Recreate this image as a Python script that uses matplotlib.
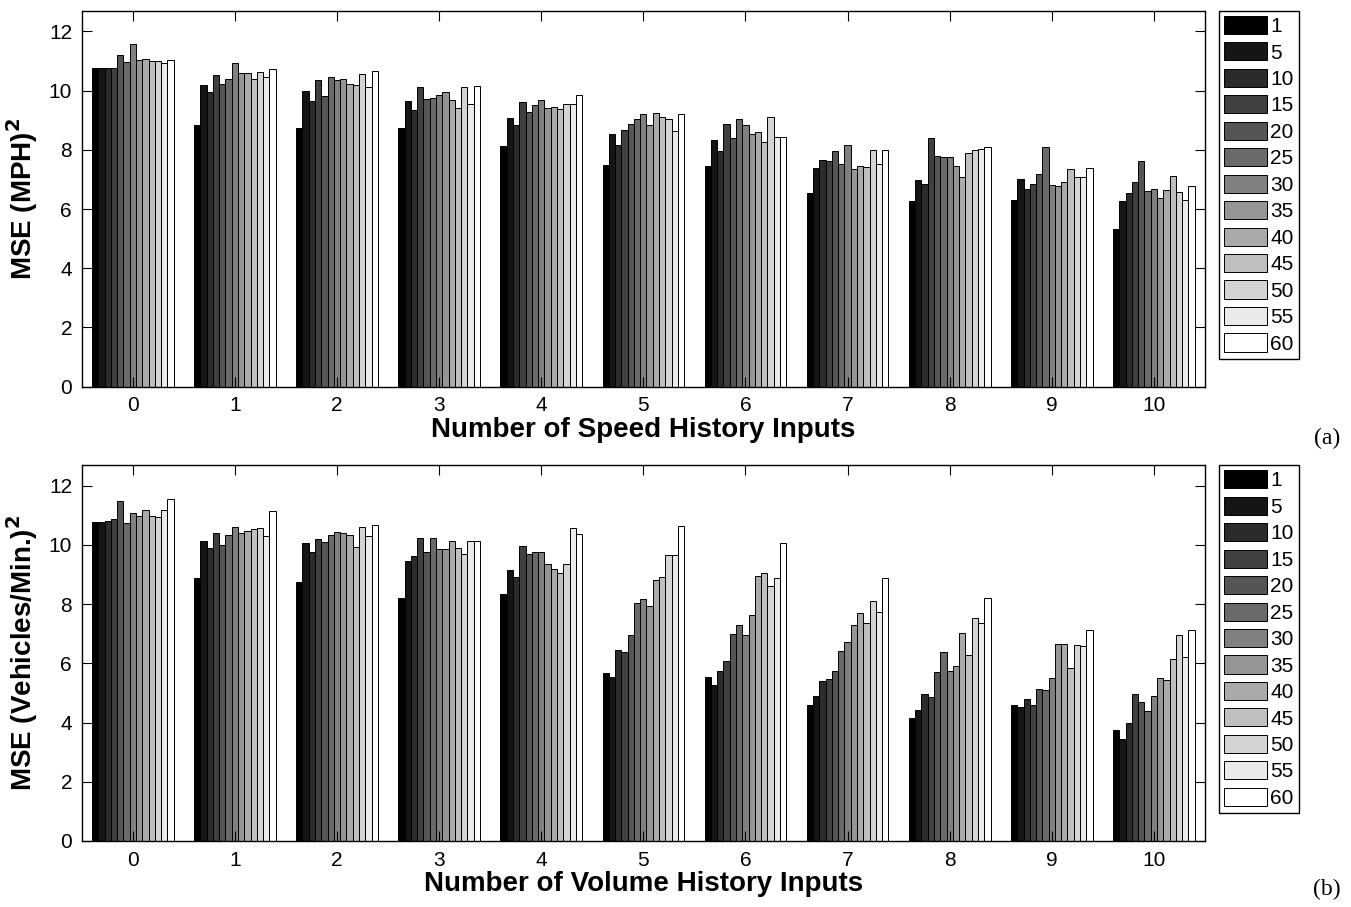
import numpy as np
import matplotlib
matplotlib.use("Agg")
import matplotlib.pyplot as plt

plt.rcParams['font.family'] = ['Liberation Sans', 'DejaVu Sans']

history = list(range(11))
horizons = ['1', '5', '10', '15', '20', '25', '30', '35', '40', '45', '50', '55', '60']

# rows = number of history inputs (0..10), columns = horizon (1..60)
speed_mse = [
    [10.75, 10.77, 10.78, 10.78, 11.22, 10.98, 11.58, 11.05, 11.08, 11.01, 11.01, 10.93, 11.03],
    [8.83, 10.18, 9.95, 10.54, 10.24, 10.38, 10.95, 10.60, 10.59, 10.38, 10.62, 10.45, 10.72],
    [8.75, 10.00, 9.65, 10.36, 9.82, 10.46, 10.35, 10.38, 10.22, 10.19, 10.55, 10.11, 10.66],
    [8.75, 9.65, 9.33, 10.11, 9.72, 9.76, 9.84, 9.96, 9.67, 9.40, 10.13, 9.55, 10.17],
    [8.13, 9.06, 8.83, 9.60, 9.29, 9.50, 9.68, 9.42, 9.46, 9.37, 9.55, 9.55, 9.84],
    [7.49, 8.54, 8.17, 8.67, 8.87, 9.05, 9.20, 8.85, 9.26, 9.10, 9.04, 8.62, 9.21],
    [7.45, 8.34, 7.95, 8.88, 8.41, 9.03, 8.85, 8.52, 8.61, 8.25, 9.11, 8.42, 8.43],
    [6.54, 7.40, 7.66, 7.62, 7.95, 7.52, 8.17, 7.34, 7.44, 7.41, 8.00, 7.51, 7.98],
    [6.27, 6.97, 6.84, 8.41, 7.79, 7.76, 7.76, 7.47, 7.07, 7.88, 7.98, 8.02, 8.09],
    [6.30, 7.02, 6.69, 6.83, 7.20, 8.10, 6.80, 6.77, 6.93, 7.36, 7.07, 7.07, 7.40],
    [5.32, 6.28, 6.53, 6.92, 7.63, 6.62, 6.69, 6.38, 6.65, 7.10, 6.59, 6.32, 6.77],
]

volume_mse = [
    [10.76, 10.76, 10.82, 10.87, 11.50, 10.75, 11.08, 10.99, 11.18, 10.97, 10.94, 11.17, 11.55],
    [8.89, 10.12, 9.89, 10.40, 9.99, 10.33, 10.61, 10.39, 10.47, 10.54, 10.56, 10.29, 11.13],
    [8.74, 10.07, 9.77, 10.20, 10.11, 10.33, 10.43, 10.39, 10.32, 9.93, 10.59, 10.31, 10.69],
    [8.21, 9.45, 9.62, 10.24, 9.76, 10.22, 9.85, 9.85, 10.12, 9.90, 9.69, 10.14, 10.14],
    [8.35, 9.14, 8.91, 9.96, 9.71, 9.75, 9.75, 9.34, 9.18, 9.04, 9.34, 10.56, 10.37],
    [5.67, 5.53, 6.46, 6.37, 6.95, 8.05, 8.17, 7.94, 8.83, 8.91, 9.65, 9.66, 10.63],
    [5.53, 5.27, 5.75, 6.07, 6.99, 7.28, 6.96, 7.65, 8.96, 9.05, 8.61, 8.88, 10.05],
    [4.59, 4.89, 5.41, 5.46, 5.74, 6.41, 6.73, 7.28, 7.70, 7.36, 8.09, 7.75, 8.88],
    [4.16, 4.44, 4.96, 4.85, 5.72, 6.40, 5.74, 5.92, 7.04, 6.29, 7.53, 7.37, 8.21],
    [4.60, 4.51, 4.79, 4.60, 5.12, 5.09, 5.50, 6.67, 6.65, 5.83, 6.61, 6.59, 7.14],
    [3.75, 3.44, 3.98, 4.96, 4.68, 4.38, 4.91, 5.50, 5.44, 6.16, 6.97, 6.23, 7.14],
]

panels = [
    (speed_mse, 'MSE (MPH)$^{\\bf 2}$', 'Number of Speed History Inputs', '(a)'),
    (volume_mse, 'MSE (Vehicles/Min.)$^{\\bf 2}$', 'Number of Volume History Inputs', '(b)'),
]

grays = np.linspace(0, 1, len(horizons))
n = len(horizons)
width = 0.8 / n
x = np.arange(len(history))

fig = plt.figure(figsize=(13.51, 9.07), dpi=100)
ax_pos = [[0.0605, 0.5737, 0.8314, 0.4145],
          [0.0605, 0.0728, 0.8314, 0.4145]]
tag_y = [0.517, 0.019]

for k, (data, ylab, xlab, tag) in enumerate(panels):
    ax = fig.add_axes(ax_pos[k])
    vals = np.array(data)
    for j in range(n):
        ax.bar(x - 0.4 + width * (j + 0.5), vals[:, j], width=width,
               color=str(grays[j]), edgecolor='black', linewidth=0.7,
               label=horizons[j])
    ax.set_xlim(-0.5, 10.5)
    ax.set_ylim(0, 12.7)
    ax.set_xticks(x)
    ax.set_yticks(np.arange(0, 13, 2))
    ax.tick_params(direction='in', length=7, width=0.8, labelsize=15,
                   top=True, right=True, pad=7)
    ax.set_ylabel(ylab, fontsize=20, fontweight='bold', labelpad=6)
    ax.set_xlabel(xlab, fontsize=20, fontweight='bold', labelpad=1)
    for s in ax.spines.values():
        s.set_linewidth(1.0)
    leg = ax.legend(loc='upper left', bbox_to_anchor=(1.0127, 1.0),
                    borderaxespad=0, fontsize=15, handlelength=2.05,
                    handleheight=0.96, labelspacing=0.3, handletextpad=0.15,
                    borderpad=0.25, fancybox=False, framealpha=1,
                    edgecolor='black')
    leg.get_frame().set_linewidth(1.0)
    fig.text(0.982, tag_y[k], tag, fontsize=17, family='Liberation Serif',
             ha='center', va='center')

fig.savefig('out.png', dpi=100)
